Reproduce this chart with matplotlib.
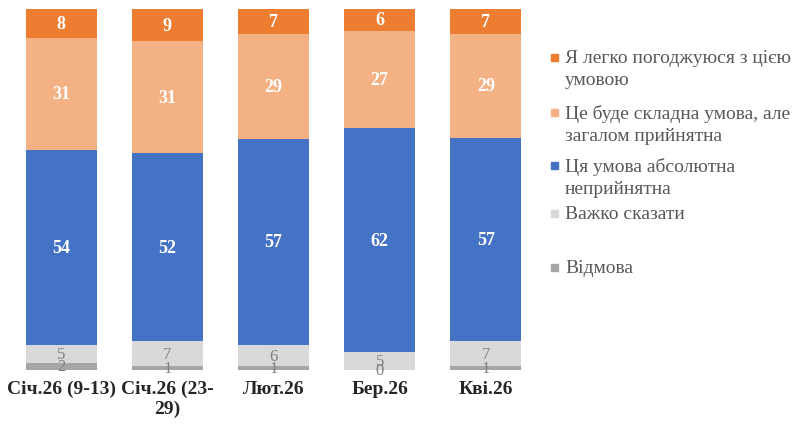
import matplotlib
matplotlib.use("Agg")
import matplotlib.pyplot as plt
from matplotlib.patches import Rectangle
import numpy as np

categories = ["Січ.26 (9-13)", "Січ.26 (23-\n29)", "Лют.26", "Бер.26", "Кві.26"]
series_names = ["Відмова", "Важко сказати", "Ця умова абсолютна\nнеприйнятна",
                "Це буде складна умова, але\nзагалом прийнятна", "Я легко погоджуюся з цією\nумовою"]
refusal = [2, 1, 1, 0, 1]
hard_to_say = [5, 7, 6, 5, 7]
unacceptable = [54, 52, 57, 62, 57]
hard_acceptable = [31, 31, 29, 27, 29]
easy = [8, 9, 7, 6, 7]

series = [refusal, hard_to_say, unacceptable, hard_acceptable, easy]
colors = ["#A5A5A5", "#D9D9D9", "#4472C4", "#F4B183", "#ED7D31"]
label_colors = ["#808080", "#808080", "white", "white", "white"]
label_bold = [False, False, True, True, True]

plt.rcParams['font.family'] = ['Liberation Serif', 'DejaVu Serif']

fig = plt.figure(figsize=(7.96, 4.27), dpi=100)
ax = fig.add_axes([8/796, 1-371/427, 531/796, 361/427])

vals = np.array(series, dtype=float)
totals = vals.sum(axis=0)
norm = vals / totals * 100
x = np.arange(len(categories))
bottom = np.zeros(len(categories))
for i, (s, c) in enumerate(zip(norm, colors)):
    bars = ax.bar(x, s, 0.67, bottom=bottom, color=c, edgecolor='none')
    ax.bar_label(bars, labels=[str(v) for v in series[i]], label_type='center',
                 color=label_colors[i], fontsize=13 if label_bold[i] else 12,
                 fontweight='bold' if label_bold[i] else 'normal')
    bottom += s

ax.set_xlim(-0.5, 4.5)
ax.set_ylim(0, 100)
ax.set_xticks(x)
ax.set_xticklabels(categories, fontsize=14, fontweight='bold', color='#262626')
ax.tick_params(axis='x', length=0, pad=7)
ax.set_yticks([])
for sp in ax.spines.values():
    sp.set_visible(False)

# legend (manual, top entry first)
leg_y = [58, 113, 166, 214, 268]
order = [4, 3, 2, 1, 0]
for y, idx in zip(leg_y, order):
    fig.patches.append(Rectangle((551/796, 1-(y+3.5)/427), 7/796, 7/427,
                                 transform=fig.transFigure, color=colors[idx]))
    fig.text(565/796, 1-(y-8)/427, series_names[idx], fontsize=14, color='#595959',
             va='top', ha='left', linespacing=1.4)

fig.savefig("out.png", dpi=100)
